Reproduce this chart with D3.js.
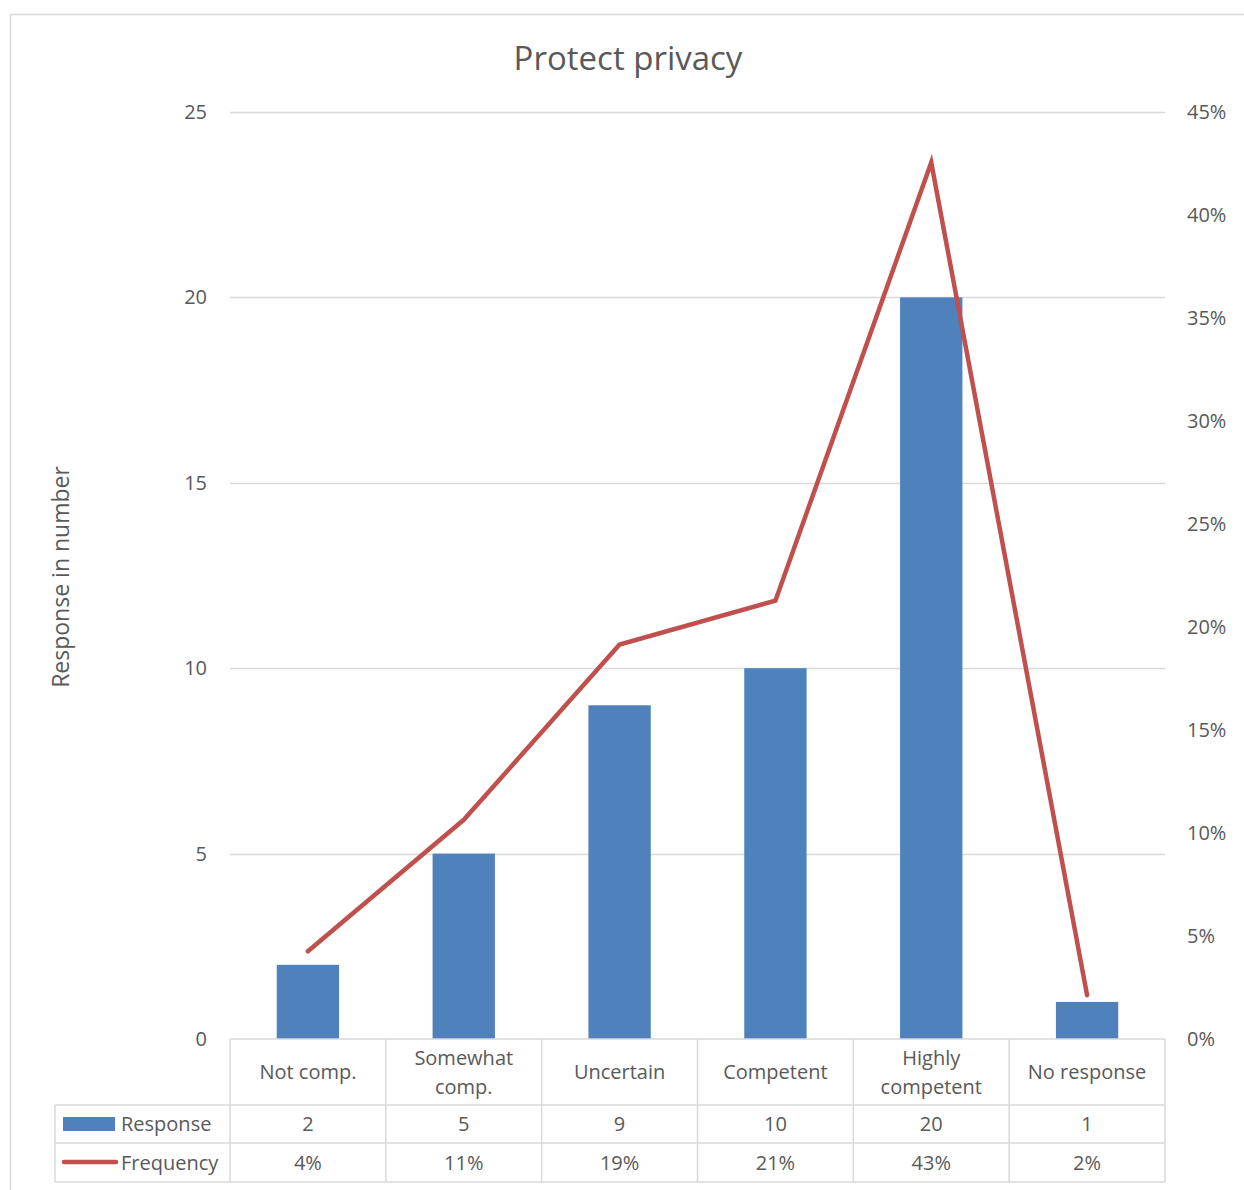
<!DOCTYPE html>
<html><head><meta charset="utf-8">
<script src="https://cdn.jsdelivr.net/npm/d3@7"></script>
<style>body{margin:0;background:#fff}svg{display:block}text{font-family:"Open Sans",sans-serif;fill:#595959}</style>
</head><body>
<script>
const categories = [["Not comp."],["Somewhat","comp."],["Uncertain"],["Competent"],["Highly","competent"],["No response"]];
const response = [2,5,9,10,20,1];
const frequency = [4.26,10.64,19.15,21.28,42.55,2.13];
const frequencyLabels = ["4%","11%","19%","21%","43%","2%"];
const leftTicks = [0,5,10,15,20,25];
const rightTicks = [0,5,10,15,20,25,30,35,40,45];

const W=1244,H=1190,FS=20;
const svg=d3.select("body").append("svg").attr("width",W).attr("height",H);
svg.append("rect").attr("x",10.5).attr("y",14.5).attr("width",1260).attr("height",1200).attr("fill","none").attr("stroke","#d9d9d9").attr("stroke-width",1.5);

const L=230,R=1165,T=112,B=1039;
const x=d3.scaleBand().domain(d3.range(categories.length)).range([L,R]).paddingInner(0.6).paddingOuter(0.3);
const xc=d3.scaleBand().domain(d3.range(categories.length)).range([L,R]);
const y=d3.scaleLinear().domain([0,25]).range([B,T]);
const y2=d3.scaleLinear().domain([0,45]).range([B,T]);

svg.append("text").attr("x",628).attr("y",70).attr("text-anchor","middle").attr("font-size",33).text("Protect privacy");

// gridlines
svg.append("g").selectAll("line").data(leftTicks.filter(d=>d>0)).join("line")
  .attr("x1",L).attr("x2",R).attr("y1",d=>Math.round(y(d))+0.5).attr("y2",d=>Math.round(y(d))+0.5)
  .attr("stroke","#d9d9d9").attr("stroke-width",1.5);

// axes
const la=svg.append("g").attr("transform",`translate(${L},0)`).call(d3.axisLeft(y).tickValues(leftTicks).tickSize(0).tickPadding(23));
la.select(".domain").remove();
la.selectAll("text").attr("font-size",FS).attr("fill","#595959").attr("font-family","Open Sans").attr("dy","0.32em");
const ra=svg.append("g").attr("transform",`translate(${R},0)`).call(d3.axisRight(y2).tickValues(rightTicks).tickFormat(d=>d+"%").tickSize(0).tickPadding(22));
ra.select(".domain").remove();
ra.selectAll("text").attr("font-size",FS).attr("fill","#595959").attr("font-family","Open Sans").attr("dy","0.32em");

svg.append("text").attr("transform","translate(69,577) rotate(-90)").attr("text-anchor","middle").attr("font-size",23).text("Response in number");

// bars
svg.append("g").selectAll("rect").data(response).join("rect")
  .attr("x",(d,i)=>x(i)).attr("width",x.bandwidth()).attr("y",d=>y(d)).attr("height",d=>B-y(d)).attr("fill","#4f81bd");

// line
const line=d3.line().x((d,i)=>xc(i)+xc.bandwidth()/2).y(d=>y2(d));
svg.append("path").datum(frequency).attr("d",line).attr("fill","none").attr("stroke","#c0504d").attr("stroke-width",4.5).attr("stroke-linecap","round").attr("stroke-linejoin","miter");

// data table
const tb=svg.append("g").attr("stroke","#d9d9d9").attr("stroke-width",1.5);
const r1=1105,r2=1143,r3=1182,TL=55;
tb.append("line").attr("x1",L).attr("x2",R).attr("y1",B).attr("y2",B);
[r1,r2,r3].forEach(yy=>tb.append("line").attr("x1",TL).attr("x2",R).attr("y1",yy).attr("y2",yy));
tb.append("line").attr("x1",TL).attr("x2",TL).attr("y1",r1).attr("y2",r3);
d3.range(categories.length+1).forEach(i=>{
  const xx=i<categories.length?xc(i):R;
  tb.append("line").attr("x1",xx).attr("x2",xx).attr("y1",B).attr("y2",r3);
});
categories.forEach((c,i)=>{
  const cx=xc(i)+xc.bandwidth()/2;
  const t=svg.append("text").attr("x",cx).attr("text-anchor","middle").attr("font-size",FS);
  const y0=(B+r1)/2 - (c.length-1)*14.5;
  c.forEach((s,j)=>t.append("tspan").attr("x",cx).attr("y",y0+j*29).attr("dy","0.35em").text(s));
});
response.forEach((v,i)=>svg.append("text").attr("x",xc(i)+xc.bandwidth()/2).attr("y",(r1+r2)/2).attr("dy","0.35em").attr("text-anchor","middle").attr("font-size",FS).text(v));
frequencyLabels.forEach((v,i)=>svg.append("text").attr("x",xc(i)+xc.bandwidth()/2).attr("y",(r2+r3)/2).attr("dy","0.35em").attr("text-anchor","middle").attr("font-size",FS).text(v));
// legend keys
svg.append("rect").attr("x",63).attr("y",1117).attr("width",52).attr("height",14).attr("fill","#4f81bd");
svg.append("text").attr("x",121).attr("y",(r1+r2)/2).attr("dy","0.35em").attr("font-size",FS).text("Response");
svg.append("line").attr("x1",64).attr("x2",116).attr("y1",1162).attr("y2",1162).attr("stroke","#c0504d").attr("stroke-width",4.5).attr("stroke-linecap","round");
svg.append("text").attr("x",121).attr("y",(r2+r3)/2).attr("dy","0.35em").attr("font-size",FS).text("Frequency");
</script>
</body></html>
